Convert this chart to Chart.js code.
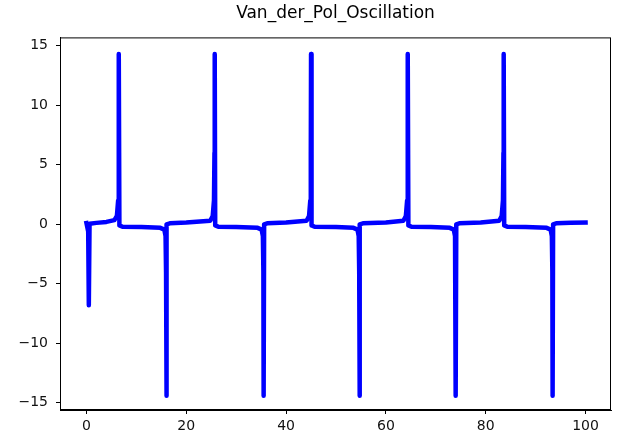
<!DOCTYPE html>
<html>
<head>
<meta charset="utf-8">
<title>Van_der_Pol_Oscillation</title>
<script src="https://cdn.jsdelivr.net/npm/chart.js@4.4.1/dist/chart.umd.min.js"></script>
<style>
    html, body { margin: 0; padding: 0; background: #fff; }
    #chart { display: block; }
</style>
</head>
<body>
<canvas id="chart" width="618" height="439"></canvas>
<script>
// values (t on x, dx/dt on y)
const timeValues = [
    0, 0.35, 0.45, 0.5, 0.62, 2, 4, 5.6, 6.1, 6.35, 6.45, 6.5, 6.6,
    7.2, 11, 14.8, 15.6, 15.85, 15.95, 16.0, 16.1,
    16.7, 20, 24.8, 25.3, 25.55, 25.65, 25.7, 25.8,
    26.4, 30, 34.3, 35.1, 35.35, 35.45, 35.5, 35.6,
    36.2, 40, 44.1, 44.6, 44.85, 44.95, 45.0, 45.1,
    45.7, 50, 53.5, 54.3, 54.55, 54.65, 54.7, 54.8,
    55.4, 60, 63.5, 64.0, 64.25, 64.35, 64.4, 64.5,
    65.1, 69, 72.8, 73.6, 73.85, 73.95, 74.0, 74.1,
    74.7, 79, 82.7, 83.2, 83.45, 83.55, 83.6, 83.7,
    84.3, 88, 92.2, 93.0, 93.25, 93.35, 93.4, 93.5,
    94.1, 97, 100
];
const velocityValues = [
    0.1, -0.6, -3.5, -6.8, 0.05, 0.12, 0.2, 0.35, 0.7, 2, 6, 14.3, -0.1,
    -0.2, -0.22, -0.3, -0.45, -1, -4, -14.4, 0,
    0.08, 0.15, 0.3, 0.7, 2, 6, 14.3, -0.1,
    -0.2, -0.22, -0.3, -0.45, -1, -4, -14.4, 0,
    0.08, 0.15, 0.3, 0.7, 2, 6, 14.3, -0.1,
    -0.2, -0.22, -0.3, -0.45, -1, -4, -14.4, 0,
    0.08, 0.15, 0.3, 0.7, 2, 6, 14.3, -0.1,
    -0.2, -0.22, -0.3, -0.45, -1, -4, -14.4, 0,
    0.08, 0.15, 0.3, 0.7, 2, 6, 14.3, -0.1,
    -0.2, -0.22, -0.3, -0.45, -1, -4, -14.4, 0,
    0.08, 0.12, 0.15
];
const xTickValues = [0, 20, 40, 60, 80, 100];
const yTickValues = [-15, -10, -5, 0, 5, 10, 15];

const ctx = document.getElementById("chart");

// matplotlib style frame around the plot area
const frameBox = {
    id: "frameBox",
    afterDatasetsDraw(chart) {
        const a = chart.chartArea;
        const c = chart.ctx;
        c.save();
        c.strokeStyle = "#000";
        c.lineWidth = 1;
        c.strokeRect(a.left + 0.5, a.top + 0.5, a.right - a.left - 1, a.bottom - a.top - 1);
        c.restore();
    }
};

function minusLabel(v) {
    return v < 0 ? "\u2212" + Math.abs(v) : String(v);
}

const chart = new Chart(ctx, {
    type: "line",
    data: {
        datasets: [{
            label: "Van_der_Pol",
            data: timeValues.map((t, i) => ({ x: t, y: velocityValues[i] })),
            borderColor: "#0000ff",
            borderWidth: 4.5,
            borderJoinStyle: "round",
            borderCapStyle: "square",
            pointRadius: 0,
            tension: 0,
            fill: false
        }]
    },
    options: {
        responsive: false,
        animation: false,
        layout: {
            padding: { left: 0, right: 7, top: 0, bottom: 0 }
        },
        plugins: {
            legend: { display: false },
            tooltip: { enabled: false },
            title: {
                display: true,
                text: "Van_der_Pol_Oscillation",
                fullSize: false,
                color: "#000",
                font: { family: "DejaVu Sans", size: 17, weight: "normal" },
                padding: { top: 3, bottom: 14 }
            }
        },
        scales: {
            x: {
                type: "linear",
                min: -5.3,
                max: 105.1,
                afterBuildTicks: (scale) => {
                    scale.ticks = xTickValues.map(v => ({ value: v }));
                },
                afterFit: (scale) => { scale.height = 29; },
                grid: { drawOnChartArea: false, drawTicks: true, tickLength: 4, color: "#000" },
                border: { display: true, color: "#000", width: 1 },
                ticks: {
                    color: "#111",
                    padding: 4,
                    maxRotation: 0,
                    font: { family: "DejaVu Sans", size: 14 },
                    callback: (v) => minusLabel(v)
                }
            },
            y: {
                type: "linear",
                min: -15.6,
                max: 15.7,
                afterBuildTicks: (scale) => {
                    scale.ticks = yTickValues.map(v => ({ value: v }));
                },
                afterFit: (scale) => { scale.width = 60; },
                grid: { drawOnChartArea: false, drawTicks: true, tickLength: 4, color: "#000" },
                border: { display: true, color: "#000", width: 1 },
                ticks: {
                    color: "#111",
                    padding: 8,
                    font: { family: "DejaVu Sans", size: 14 },
                    callback: (v) => minusLabel(v)
                }
            }
        }
    },
    plugins: [frameBox]
});
</script>
</body>
</html>
